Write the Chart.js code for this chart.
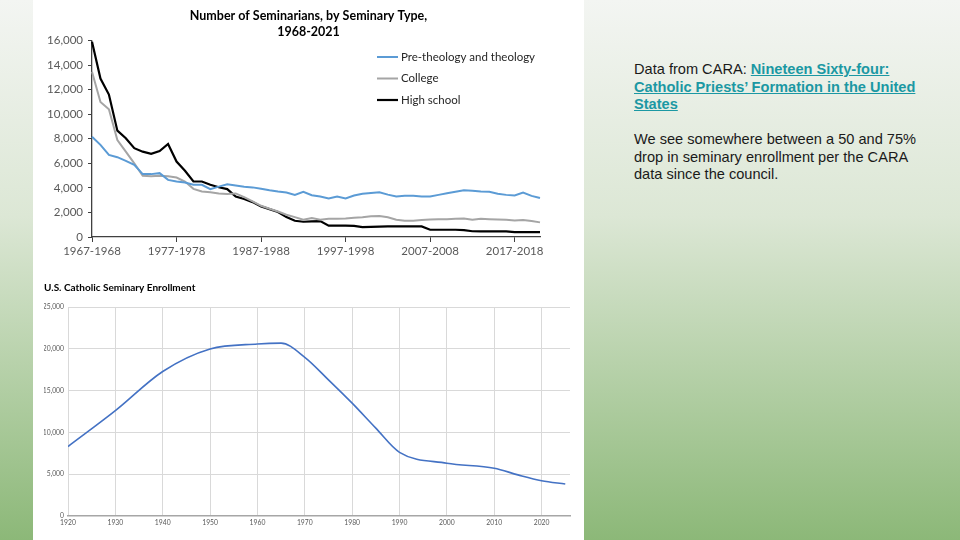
<!DOCTYPE html>
<html><head><meta charset="utf-8">
<script src="https://cdn.jsdelivr.net/npm/chart.js@4.4.1/dist/chart.umd.min.js"></script>
<style>
html,body{margin:0;padding:0;}
body{width:960px;height:540px;overflow:hidden;position:relative;background:linear-gradient(to bottom,#f3f5f2 0%,#dce7d5 40%,#8cb878 100%);font-family:"Liberation Sans",Arial,sans-serif;}
#panel{position:absolute;left:33px;top:0;width:551px;height:540px;background:#fff;}
#c1{position:absolute;left:33px;top:0;width:551px;height:270px;}
#c2{position:absolute;left:44px;top:270px;width:540px;height:270px;}
#txt{position:absolute;left:634px;top:61px;font-size:14.6px;line-height:17.5px;color:#1a1a1a;white-space:nowrap;}
#txt a{color:#1b98a3;font-weight:bold;text-decoration:underline;}
</style></head>
<body>
<div id="panel"></div>
<canvas id="c1" width="551" height="270"></canvas>
<canvas id="c2" width="540" height="270"></canvas>
<div id="txt">Data from CARA: <a href="#">Nineteen Sixty-four:<br>Catholic Priests’ Formation in the United<br>States</a><br><br>We see somewhere between a 50 and 75%<br>drop in seminary enrollment per the CARA<br>data since the council.</div>
<script>
// ---- Top chart data ----
const firstYear = 1967, lastYear = 2020;
const seasons = [];
for (let y = firstYear; y <= lastYear; y++) seasons.push(y + '-' + (y + 1));
const theology = [8170,7500,6680,6500,6200,5870,5120,5120,5200,4650,4520,4440,4250,4250,3900,4100,4300,4200,4100,4040,3920,3800,3700,3620,3430,3680,3400,3300,3130,3300,3140,3380,3520,3580,3650,3450,3300,3350,3350,3300,3300,3430,3570,3680,3800,3760,3700,3680,3520,3430,3380,3620,3350,3170];
const college = [13450,11000,10400,7900,6950,6000,4980,4950,4980,4950,4840,4520,3920,3700,3650,3550,3500,3550,3250,2900,2540,2300,2080,1810,1620,1400,1540,1400,1480,1480,1500,1560,1600,1680,1700,1600,1400,1330,1330,1380,1420,1440,1450,1480,1500,1400,1480,1450,1420,1400,1350,1380,1300,1190];
const highSchool = [15900,12900,11600,8660,8040,7230,6950,6770,7000,7580,6140,5390,4520,4520,4250,4050,3900,3300,3090,2840,2490,2270,2030,1620,1320,1240,1270,1300,920,920,920,900,810,830,850,870,870,870,870,860,590,590,590,590,560,470,450,450,450,450,400,400,400,400];
const seriesNames = ['Pre-theology and theology','College','High school'];
const topTitle = ['Number of Seminarians, by Seminary Type,','1968-2021'];

// ---- Bottom chart data ----
const enrollYears = [1920,1930,1940,1950,1960,1965,1970,1975,1980,1985,1990,2000,2010,2015,2020,2025];
const enrollment = [8300,12600,17300,20000,20600,20700,19000,16300,13500,10500,7600,6300,5700,4900,4200,3800];
const bottomTitle = 'U.S. Catholic Seminary Enrollment';

const fixedLegend = {
  id: 'fixedLegend',
  afterDraw(chart, args, o) {
    const ctx = chart.ctx;
    ctx.save();
    ctx.font = o.font;
    ctx.textBaseline = 'middle';
    chart.data.datasets.forEach((ds, i) => {
      const y = o.y + i * o.gap;
      ctx.strokeStyle = ds.borderColor;
      ctx.lineWidth = ds.borderWidth;
      ctx.beginPath(); ctx.moveTo(o.x, y); ctx.lineTo(o.x + o.len, y); ctx.stroke();
      ctx.fillStyle = o.color;
      ctx.fillText(ds.label, o.x + o.len + 3, y);
    });
    ctx.restore();
  }
};

const tickFont = {family: 'Lato', size: 11.5};
new Chart(document.getElementById('c1'), {
  type: 'line',
  data: {
    labels: seasons,
    datasets: [
      {label: seriesNames[0], data: theology, borderColor: '#5b9bd5', borderWidth: 2, pointRadius: 0, tension: 0},
      {label: seriesNames[1], data: college, borderColor: '#a5a5a5', borderWidth: 2, pointRadius: 0, tension: 0},
      {label: seriesNames[2], data: highSchool, borderColor: '#000000', borderWidth: 2.2, pointRadius: 0, tension: 0}
    ]
  },
  options: {
    responsive: false, animation: false, devicePixelRatio: 1,
    layout: {padding: {top: 8, right: 0, left: 0, bottom: 0}},
    plugins: {
      legend: {display: false}, tooltip: {enabled: false},
      title: {display: true, text: topTitle, color: '#000', font: {family: 'Lato', size: 12.5, weight: 'bold', lineHeight: 1.3}, padding: {top: 0, bottom: 0}},
      fixedLegend: {x: 344, y: 57, gap: 21.5, len: 21, font: '11.5px Lato', color: '#262626'}
    },
    scales: {
      x: {
        grid: {display: true, drawOnChartArea: false, drawTicks: true, tickLength: 5, color: '#404040'},
        border: {display: true, color: '#404040', width: 1.3},
        ticks: {autoSkip: false, maxRotation: 0, padding: 2.5, color: '#595959', font: tickFont},
        afterBuildTicks: s => { s.ticks = s.ticks.filter(t => t.value % 10 === 0); },
        afterFit: s => { s.height = 33; }
      },
      y: {
        min: 0, max: 16000,
        grid: {display: true, drawOnChartArea: false, drawTicks: true, tickLength: 4, color: '#404040'},
        border: {display: true, color: '#404040', width: 1.3},
        ticks: {stepSize: 2000, padding: 5, color: '#595959', font: tickFont, callback: v => v.toLocaleString('en-US')},
        afterFit: s => { s.width = 59; }
      },
      yRight: {
        position: 'right', display: true,
        grid: {display: false}, border: {display: false}, ticks: {display: false},
        afterFit: s => { s.width = 44; }
      }
    }
  },
  plugins: [fixedLegend]
});

const smallFont = {family: 'Lato', size: 6.8};
new Chart(document.getElementById('c2'), {
  type: 'line',
  data: {
    datasets: [{
      label: bottomTitle,
      data: enrollYears.map((y, i) => ({x: y, y: enrollment[i]})),
      borderColor: '#4472c4', borderWidth: 1.6, pointRadius: 0, cubicInterpolationMode: 'monotone'
    }]
  },
  options: {
    responsive: false, animation: false, devicePixelRatio: 1,
    layout: {padding: {top: 0, left: 0, right: 14, bottom: 0}},
    plugins: {
      legend: {display: false}, tooltip: {enabled: false},
      title: {display: true, align: 'start', text: bottomTitle, color: '#000', font: {family: 'Lato', size: 10, weight: 'bold', lineHeight: 1.2}, padding: {top: 12, bottom: 13.3}}
    },
    scales: {
      x: {
        type: 'linear', min: 1920, max: 2026,
        afterBuildTicks: s => { s.ticks = s.ticks.filter(t => t.value % 10 === 0); },
        ticks: {stepSize: 10, maxRotation: 0, color: '#595959', font: smallFont, padding: 3, callback: v => String(v)},
        grid: {color: '#d9d9d9', lineWidth: 1, drawTicks: false},
        border: {color: '#a6a6a6', width: 1.5},
        afterFit: s => { s.height = 24.3; }
      },
      y: {
        min: 0, max: 25000,
        ticks: {stepSize: 5000, color: '#595959', font: smallFont, padding: 4, callback: v => v.toLocaleString('en-US')},
        grid: {color: '#d9d9d9', lineWidth: 1, drawTicks: false},
        border: {display: false},
        afterFit: s => { s.width = 24; }
      }
    }
  }
});
</script>
</body></html>
